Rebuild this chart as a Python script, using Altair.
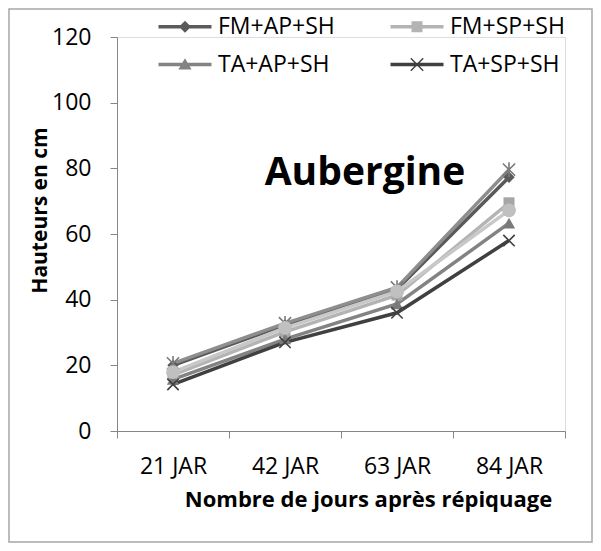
import altair as alt
import pandas as pd

# ---- data ----
jours = ["21 JAR", "42 JAR", "63 JAR", "84 JAR"]
series = ["FM+AP+SH", "FM+SP+SH", "TA+AP+SH", "TA+SP+SH", "Série 5", "Série 6"]
fm_ap_sh = [20.0, 32.3, 43.2, 77.3]
fm_sp_sh = [17.1, 30.2, 41.4, 69.5]
ta_ap_sh = [15.7, 28.0, 38.7, 63.3]
ta_sp_sh = [14.2, 27.0, 36.0, 58.0]
serie_5 = [20.6, 32.8, 43.7, 79.6]
serie_6 = [17.9, 31.4, 42.5, 67.2]
legend_series = ["FM+AP+SH", "FM+SP+SH", "TA+AP+SH", "TA+SP+SH"]
y_ticks = [0, 20, 40, 60, 80, 100, 120]

values = [fm_ap_sh, fm_sp_sh, ta_ap_sh, ta_sp_sh, serie_5, serie_6]
rows = []
for s, vals in zip(series, values):
    for j, v in zip(jours, vals):
        rows.append({"jour": j, "serie": s, "hauteur": v})
df = pd.DataFrame(rows)

# ---- styles ----
line_colors = ["#5a5a5a", "#b4b4b4", "#838383", "#404040", "#8e8e8e", "#c8c8c8"]
marker_colors = ["#5a5a5a", "#a6a6a6", "#7a7a7a", "#404040", "#7a7a7a", "#c0c0c0"]
X_PATH = "M-1,-1L1,1M-1,1L1,-1"
AST_PATH = "M-1,-1L1,1M-1,1L1,-1M0,-1.2L0,1.2"
marker_shapes = ["diamond", "square", "triangle-up", X_PATH, AST_PATH, "circle"]
marker_filled = [True, True, True, False, False, True]
marker_sizes = [130, 121, 150, 130, 150, 190]

# legend symbols: line + marker (units of 10 px with size 400)
L = "M-2.65,-0.17L2.65,-0.17L2.65,0.17L-2.65,0.17Z"
a, d = 0.62, 0.05
x_marker = (f"M{-a+d},{-a-d}L{a+d},{a-d}L{a-d},{a+d}L{-a-d},{-a+d}Z"
            f"M{-a+d},{a+d}L{-a-d},{a-d}L{a-d},{-a-d}L{a+d},{-a+d}Z")
legend_paths = [
    L + "M0,-0.6L0.6,0L0,0.6L-0.6,0Z",
    L + "M-0.55,-0.55L0.55,-0.55L0.55,0.55L-0.55,0.55Z",
    L + "M0,-0.62L0.66,0.5L-0.66,0.5Z",
    L + x_marker,
    L + x_marker,
    L + "M-0.6,0A0.6,0.6 0 1,1 0.6,0A0.6,0.6 0 1,1 -0.6,0Z",
]

FONT = "Open Sans"

x_enc = alt.X(
    "jour:N", sort=jours, bandPosition=0.5,
    scale=alt.Scale(type="band", domain=jours, paddingInner=0, paddingOuter=0),
    axis=alt.Axis(
        title="Nombre de jours après répiquage", tickBand="extent",
        labelAngle=0, labelFontSize=23, labelFont=FONT, labelColor="black",
        labelPadding=17, tickSize=7, tickColor="#868686", domainColor="#868686",
        titleFont=FONT, titleFontSize=22, titleFontWeight="bold", titleColor="black",
        titleX=251, titleY=68, titleBaseline="middle", titleAnchor="middle",
        titleAlign="center", grid=False,
    ),
)
y_enc = alt.Y(
    "hauteur:Q",
    scale=alt.Scale(domain=[0, 120], nice=False),
    axis=alt.Axis(
        values=y_ticks, title="Hauteurs en cm", grid=False,
        labelFontSize=23, labelFont=FONT, labelColor="black", labelPadding=19,
        tickSize=7, tickColor="#868686", domainColor="#868686",
        titleFont=FONT, titleFontSize=21, titleFontWeight="bold", titleColor="black",
        titleX=-77, titleY=173, titleBaseline="middle", titleAlign="center",
        titleAngle=270,
    ),
)
color_scale = alt.Scale(domain=series, range=line_colors)
shape_scale = alt.Scale(domain=series, range=legend_paths)

leg = alt.Legend(
    orient="none", legendX=56.5, legendY=-22, columns=2, columnPadding=55,
    direction="horizontal",
    rowPadding=14, symbolSize=400, symbolStrokeWidth=0, labelOffset=21.5,
    labelFontSize=23, labelFont=FONT, labelColor="black", title=None,
    values=legend_series, padding=0, labelLimit=300, symbolOpacity=1,
)

base = alt.Chart(df)

lines = base.mark_line(strokeWidth=3.5).encode(
    x=x_enc, y=y_enc,
    color=alt.Color("serie:N", scale=color_scale, legend=leg),
    detail="serie:N",
)

point_layers = []
for s, shp, fil, sz, col in zip(series, marker_shapes, marker_filled, marker_sizes, marker_colors):
    point_layers.append(
        base.transform_filter(alt.datum.serie == s).mark_point(
            shape=shp, filled=fil, size=sz, color=col, opacity=1,
            strokeWidth=1.6 if not fil else 0,
        ).encode(x=x_enc, y=y_enc)
    )

# legend-only layer: its marks are placed outside the drawing
legend_layer = base.transform_filter(
    alt.FieldOneOfPredicate(field="serie", oneOf=legend_series)
).mark_point(filled=True).encode(
    x=alt.value(-3000), y=alt.value(-3000),
    color=alt.Color("serie:N", scale=color_scale, legend=leg),
    shape=alt.Shape("serie:N", scale=shape_scale, legend=leg),
)

label_df = pd.DataFrame({"t": ["Aubergine"]})
label = alt.Chart(label_df).mark_text(
    font=FONT, fontSize=39, fontWeight="bold", color="black",
    align="center", baseline="alphabetic",
).encode(text="t:N", x=alt.value(248), y=alt.value(148))

border = alt.Chart(label_df).mark_rect(
    fillOpacity=0, stroke="#a6a6a6", strokeWidth=1.5
).encode(x=alt.value(-108), x2=alt.value(475), y=alt.value(-28), y2=alt.value(505))

chart = alt.layer(border, lines, *point_layers, legend_layer, label).properties(
    width=448, height=394,
    padding={"left": 109, "top": 29, "right": 28, "bottom": 112},
    autosize=alt.AutoSizeParams(type="none"),
).configure_view(stroke=None).configure(font=FONT)

chart.save("out.html", embed_options={"renderer": "svg", "actions": False})
